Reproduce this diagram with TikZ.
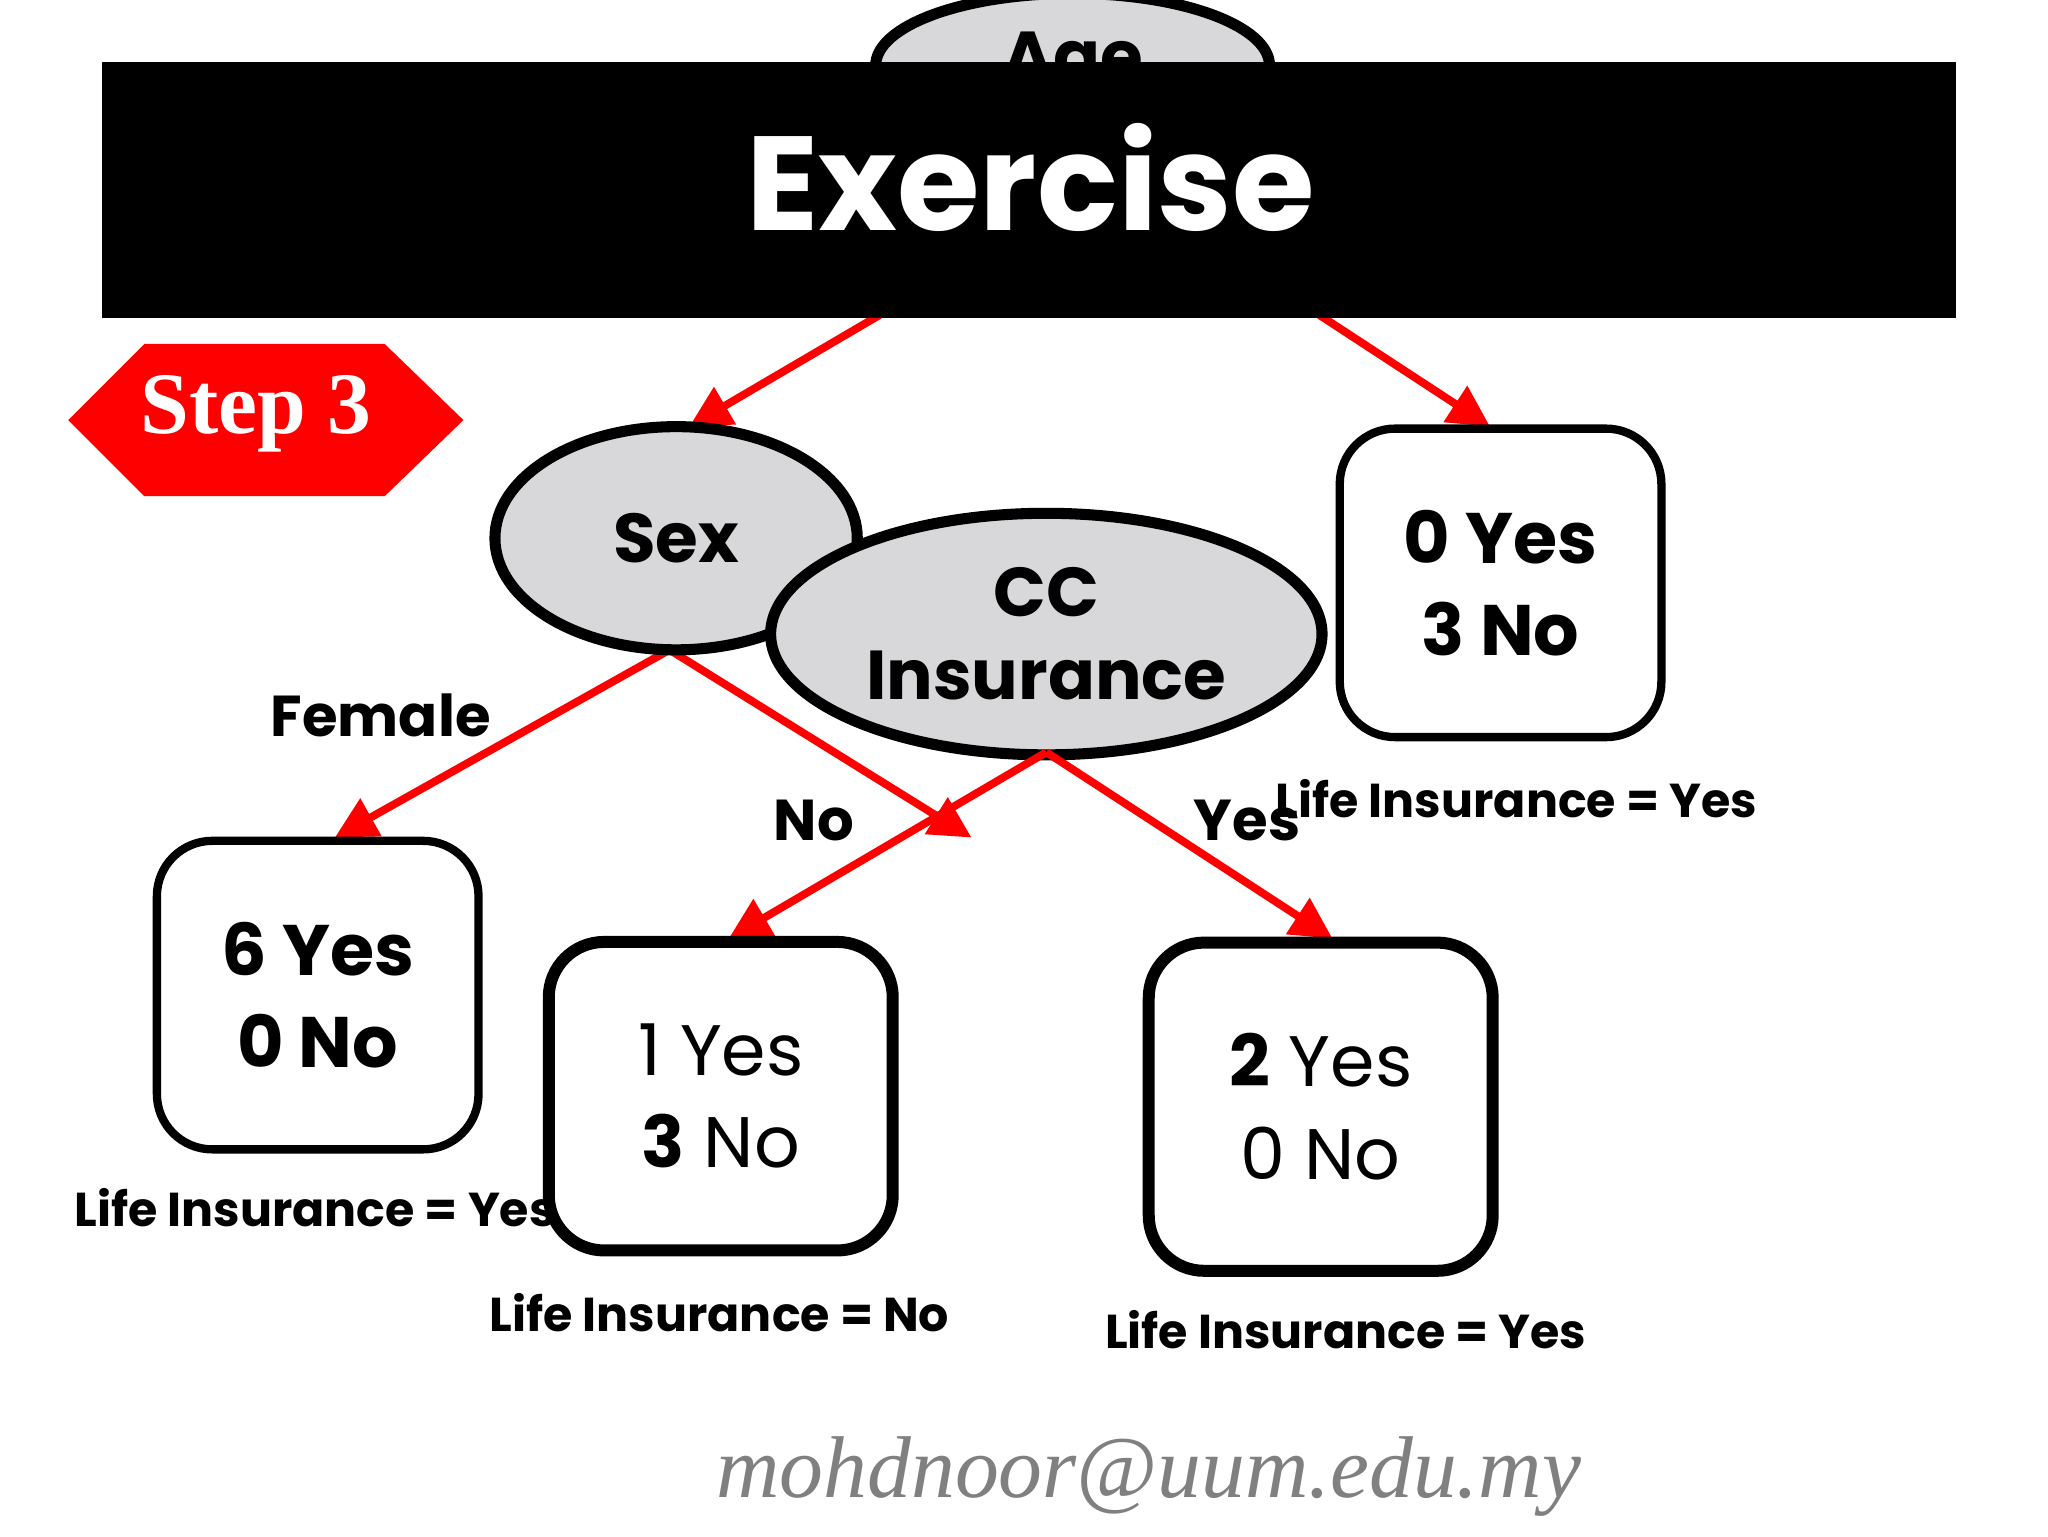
\documentclass[tikz,border=0pt]{standalone}
\usepackage{fontspec}
\setmainfont{Poppins}
\newfontfamily\stepfont{Liberation Serif}
\usetikzlibrary{arrows.meta,shapes.geometric}
\tikzset{
  split/.style={ellipse, draw=black, line width=2.4pt, fill=gray!25!blue!3!gray!30, inner sep=0pt, font=\bfseries\fontsize{15}{18}\selectfont, align=center},
  leaf/.style={draw=black, rounded corners=12pt, line width=1.8pt, fill=white, minimum width=2.45cm, minimum height=2.35cm, align=center, font=\fontsize{15.5}{20}\selectfont},
  result/.style={font=\bfseries\fontsize{10.3}{12}\selectfont},
  branch/.style={red, line width=1.7pt, -{Triangle[length=9pt,width=9pt]}},
  edgelabel/.style={font=\bfseries\fontsize{12.5}{15}\selectfont}
}
\begin{document}
\begin{tikzpicture}[x=1cm,y=1cm]
  \useasboundingbox[fill=white] (0,0) rectangle (15.6,11.7);
  % root
  \node[split, minimum width=3cm, minimum height=1.1cm] (age) at (8.17,11.2) {Age};
  % branches from root
  \draw[branch] (6.7,9.3) -- (5.25,8.45);
  \draw[branch] (10.05,9.3) -- (11.35,8.45);
  % banner
  \fill[black] (0.78,9.28) rectangle (14.9,11.23);
  \node[text=white, font=\bfseries\fontsize{29}{34}\selectfont] (title) at (7.85,10.35) {Exercise};
  % step marker
  \fill[red] (0.52,8.5) -- (1.1,9.08) -- (2.93,9.08) -- (3.53,8.5) -- (2.93,7.92) -- (1.1,7.92) -- cycle;
  \node[text=white, font=\stepfont\bfseries\fontsize{19}{22}\selectfont] (step) at (1.95,8.55) {Step 3};
  % second level
  \coordinate (sexbot) at (5.1,6.75);
  \coordinate (ccbot) at (7.97,5.97);
  \draw[branch] (sexbot) -- (2.55,5.32);
  \draw[branch] (sexbot) -- (7.4,5.32);
  \node[split, minimum width=2.76cm, minimum height=1.7cm] (sex) at (5.15,7.6) {Sex};
  \node[split, minimum width=4.2cm, minimum height=1.84cm] (cc) at (7.97,6.87) {CC\\Insurance};
  \draw[branch] (ccbot) -- (5.55,4.55);
  \draw[branch] (ccbot) -- (10.15,4.55);
  \node[edgelabel] (female) at (2.9,6.25) {Female};
  \node[edgelabel] (no) at (6.2,5.45) {No};
  \node[edgelabel] (yes) at (9.5,5.45) {Yes};
  % leaves
  \node[leaf, font=\bfseries\fontsize{15.5}{20}\selectfont] (right) at (11.43,7.26) {0 Yes\\3 No};
  \node[result] (rres) at (11.55,5.62) {Life Insurance = Yes};
  \node[leaf, font=\bfseries\fontsize{15.5}{20}\selectfont] (female) at (2.42,4.12) {6 Yes\\0 No};
  \node[result] (fres) at (2.4,2.5) {Life Insurance = Yes};
  \node[leaf, line width=2.6pt, minimum width=2.62cm] (ccno) at (5.49,3.35) {1 Yes\\\textbf{3} No};
  \node[result] (nres) at (5.48,1.7) {Life Insurance = No};
  \node[leaf, line width=2.6pt, minimum width=2.62cm, minimum height=2.5cm] (ccyes) at (10.06,3.27) {\textbf{2} Yes\\0 No};
  \node[result] (yres) at (10.25,1.57) {Life Insurance = Yes};
  % signature
  \node[text=gray, font=\itshape\fontsize{19}{24}\selectfont] (mail) at (8.75,0.45) {\setmainfont{Liberation Serif}\itshape mohdnoor@uum.edu.my};
\end{tikzpicture}
\end{document}
